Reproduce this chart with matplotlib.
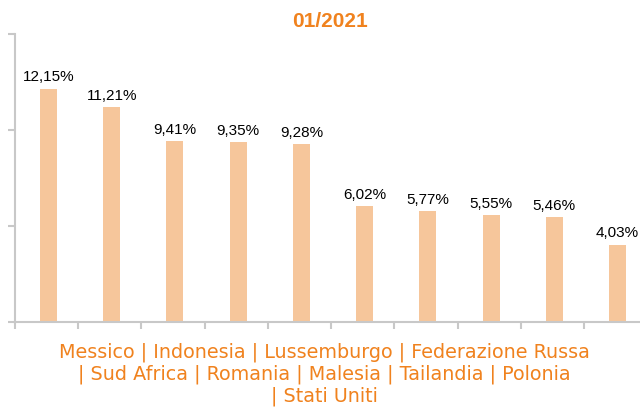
import matplotlib.pyplot as plt
import numpy as np

# dati
paesi = ["Messico", "Indonesia", "Lussemburgo", "Federazione Russa", "Sud Africa",
         "Romania", "Malesia", "Tailandia", "Polonia", "Stati Uniti"]
valori = [12.15, 11.21, 9.41, 9.35, 9.28, 6.02, 5.77, 5.55, 5.46, 4.03]
titolo = "01/2021"
righe_etichetta = [4, 5, 1]  # quanti paesi per riga nella didascalia

arancio = "#F0821E"
barra = "#F6C69B"
grigio = "#C8C8C8"

fig = plt.figure(figsize=(6.4, 4.07), dpi=100)
ax = fig.add_axes([0.0234, 0.209, 0.988, 0.7076])

x = np.arange(len(paesi))
ax.bar(x + 0.03, valori, width=0.27, color=barra, zorder=2)

for xi, v in zip(x, valori):
    ax.annotate(f"{v:.2f}%".replace(".", ","), (xi + 0.03, v), xytext=(0, 3),
                textcoords="offset points", ha="center", va="bottom",
                fontsize=11, family="Liberation Sans", color="black")

ax.set_xlim(-0.5, len(paesi) - 0.5)
ax.set_ylim(0, 15)
ax.set_yticks([0, 5, 10, 15])
ax.set_yticklabels([])
ax.set_xticks(np.arange(-0.5, len(paesi), 1.0))
ax.set_xticklabels([])
ax.tick_params(axis="both", color=grigio, width=1.5, length=5, direction="out")

for s in ["top", "right"]:
    ax.spines[s].set_visible(False)
for s in ["left", "bottom"]:
    ax.spines[s].set_color(grigio)
    ax.spines[s].set_linewidth(1.5)

fig.text(0.516, 0.946, titolo, ha="center", va="center", fontsize=15,
         fontweight="bold", color=arancio, family="Liberation Sans")

# didascalia con i nomi dei paesi
righe = []
i = 0
for n, k in enumerate(righe_etichetta):
    testo = " | ".join(paesi[i:i + k])
    if n > 0:
        testo = "| " + testo
    righe.append(testo)
    i += k
fig.text(0.507, 0.08, "\n".join(righe), ha="center", va="center",
         fontsize=13.8, color=arancio, family="DejaVu Sans", linespacing=1.18)

fig.savefig("out.png", dpi=100, facecolor="white")
